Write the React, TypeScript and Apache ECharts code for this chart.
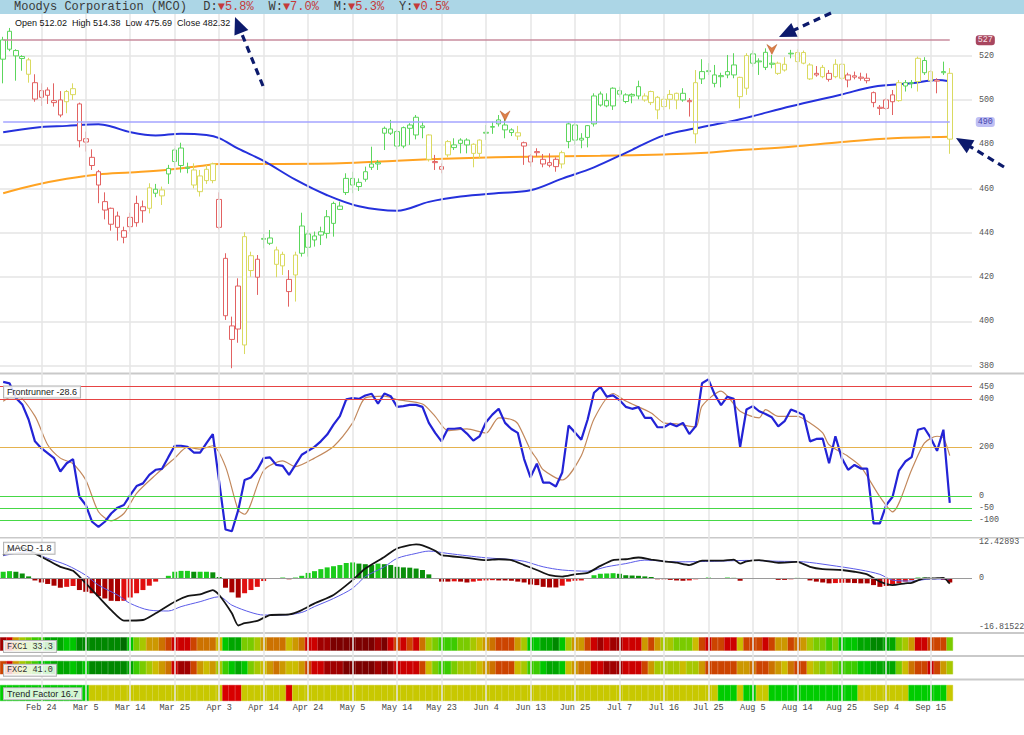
import React, { useEffect, useRef } from 'react';
import * as echarts from 'echarts';

// ---------- DATA ----------
const DATES = [
  'Feb 13','Feb 14','Feb 18','Feb 19','Feb 20','Feb 21','Feb 24','Feb 25','Feb 26','Feb 27','Feb 28',
  'Mar 3','Mar 4','Mar 5','Mar 6','Mar 7','Mar 10','Mar 11','Mar 12','Mar 13','Mar 14','Mar 17','Mar 18','Mar 19','Mar 20','Mar 21','Mar 24','Mar 25','Mar 26','Mar 27','Mar 28','Mar 31',
  'Apr 1','Apr 2','Apr 3','Apr 4','Apr 7','Apr 8','Apr 9','Apr 10','Apr 11','Apr 14','Apr 15','Apr 16','Apr 17','Apr 21','Apr 22','Apr 23','Apr 24','Apr 25','Apr 28','Apr 29','Apr 30',
  'May 1','May 2','May 5','May 6','May 7','May 8','May 9','May 12','May 13','May 14','May 15','May 16','May 19','May 20','May 21','May 22','May 23','May 27','May 28','May 29','May 30',
  'Jun 2','Jun 3','Jun 4','Jun 5','Jun 6','Jun 9','Jun 10','Jun 11','Jun 12','Jun 13','Jun 16','Jun 17','Jun 18','Jun 20','Jun 23','Jun 24','Jun 25','Jun 26','Jun 27','Jun 30',
  'Jul 1','Jul 2','Jul 3','Jul 7','Jul 8','Jul 9','Jul 10','Jul 11','Jul 14','Jul 15','Jul 16','Jul 17','Jul 18','Jul 21','Jul 22','Jul 23','Jul 24','Jul 25','Jul 28','Jul 29','Jul 30','Jul 31',
  'Aug 1','Aug 4','Aug 5','Aug 6','Aug 7','Aug 8','Aug 11','Aug 12','Aug 13','Aug 14','Aug 15','Aug 18','Aug 19','Aug 20','Aug 21','Aug 22','Aug 25','Aug 26','Aug 27','Aug 28','Aug 29',
  'Sep 2','Sep 3','Sep 4','Sep 5','Sep 8','Sep 9','Sep 10','Sep 11','Sep 12','Sep 15','Sep 16','Sep 17','Sep 18',
];
const FUTURE_SLOTS = ['', ' ', '  '];
const TICK_LABELS = ['Feb 24','Mar 5','Mar 14','Mar 25','Apr 3','Apr 14','Apr 24','May 5','May 14','May 23','Jun 4','Jun 13','Jun 25','Jul 7','Jul 16','Jul 25','Aug 5','Aug 14','Aug 25','Sep 4','Sep 15'];

const OPEN = [
  518.4,531.0,522.3,519.6,518.1,507.8,504.2,504.5,499.7,500.0,
  499.2,505.1,498.2,481.0,474.1,467.6,454.1,451.1,447.6,441.0,
  442.8,444.6,451.8,451.1,457.9,456.7,466.6,472.2,478.3,469.6,
  468.4,458.6,463.6,463.6,455.1,428.5,391.9,416.0,389.4,429.7,
  420.0,437.5,437.7,432.3,430.3,419.0,421.0,443.1,433.5,436.8,
  439.0,439.8,444.3,450.6,458.2,461.6,460.9,464.2,469.6,471.1,
  485.0,486.9,485.7,479.2,487.2,484.2,488.3,484.2,472.2,468.7,
  475.2,479.7,480.4,481.9,475.9,475.9,485.4,487.7,489.2,488.7,
  486.5,485.2,479.2,474.7,476.7,473.2,471.7,473.2,471.1,481.2,
  488.7,482.7,483.1,489.2,497.7,499.7,497.3,504.2,502.3,501.8,
  501.8,501.8,498.8,501.2,497.0,500.3,503.0,503.0,499.7,484.7,
  509.5,513.2,511.3,511.0,511.3,511.3,510.2,505.3,520.8,517.6,
  521.5,516.6,516.6,513.5,521.1,517.3,521.4,515.8,511.3,510.5,
  512.0,510.5,516.1,509.0,510.9,510.3,508.7,503.3,496.7,496.2,
  502.3,499.7,506.3,507.5,508.3,517.8,512.8,509.0,512.8,512.02,
];
const CLOSE = [
  527.1,522.9,519.9,518.7,511.6,500.4,501.2,502.1,498.8,493.2,
  503.8,502.4,481.6,482.5,470.4,461.6,450.3,443.9,442.5,438.0,
  447.0,453.3,450.0,460.3,459.7,459.4,469.1,477.4,470.4,469.1,
  461.6,465.7,468.7,471.1,442.5,402.6,398.0,396.6,438.3,423.0,
  428.1,437.1,435.3,425.8,425.1,413.5,430.0,430.8,439.5,438.6,
  440.5,447.3,453.3,452.1,464.6,464.6,462.8,467.6,471.1,471.7,
  487.2,485.0,479.2,487.5,488.7,492.2,487.5,473.2,471.7,469.9,
  481.2,478.5,481.9,479.7,480.0,481.9,485.0,488.0,491.0,486.5,
  485.3,483.7,480.7,472.0,476.2,471.1,470.5,469.9,476.2,489.2,
  481.9,481.9,488.4,501.8,502.7,497.3,505.3,502.6,499.3,502.5,
  506.0,500.0,503.8,495.5,500.3,502.5,500.0,500.0,499.2,507.8,
  512.8,512.8,507.5,510.5,512.8,515.8,501.5,520.0,516.6,517.2,
  514.7,516.1,512.0,516.1,520.8,521.4,516.6,509.5,512.0,514.7,
  509.3,516.1,509.8,511.3,510.3,509.8,509.8,498.8,496.2,500.0,
  499.2,507.8,507.8,507.9,518.8,512.3,508.7,508.5,512.3,482.32,
];
const LOW = [
  507.5,522.0,508.7,513.2,507.8,499.2,497.3,498.2,497.0,492.2,
  494.0,500.0,478.6,476.7,468.4,453.4,446.1,441.0,436.5,435.3,
  440.6,442.8,444.6,448.8,456.1,452.6,462.1,469.9,467.2,466.9,
  460.1,456.4,462.1,462.4,441.6,400.7,378.9,390.4,385.3,420.2,
  412.0,433.0,434.5,420.0,421.0,406.7,409.0,429.3,429.3,433.8,
  434.5,437.5,438.3,450.3,457.1,457.9,458.9,463.1,468.4,468.4,
  477.4,484.2,477.7,478.2,479.7,482.2,482.7,472.2,468.4,466.9,
  474.1,477.4,475.9,475.9,469.6,473.7,481.9,484.7,488.0,482.7,
  483.7,481.9,470.7,469.9,474.4,469.6,469.6,467.6,469.1,478.2,
  479.7,478.2,478.6,488.0,497.0,496.7,495.5,501.2,498.5,498.5,
  500.3,499.2,497.7,491.3,495.5,495.8,495.8,499.2,492.5,480.4,
  507.2,511.3,505.7,505.7,509.8,509.8,496.2,502.3,515.0,511.3,
  513.5,514.3,511.3,512.8,518.8,513.5,516.1,509.0,510.5,509.8,
  508.3,509.8,509.0,505.7,509.3,508.7,507.5,496.7,493.2,495.5,
  493.2,499.2,503.8,505.3,503.8,511.3,507.5,503.0,511.3,475.69,
];
const HIGH = [
  528.5,532.5,522.9,520.2,519.0,511.6,507.5,505.7,507.5,504.0,
  504.5,507.5,498.8,485.7,477.7,468.4,458.3,451.4,449.6,442.8,
  449.1,456.8,454.6,462.4,462.1,460.9,470.7,478.2,480.7,471.7,
  471.4,468.4,470.7,471.7,458.3,430.8,402.2,419.5,440.3,431.5,
  430.0,439.5,441.3,433.8,431.5,423.2,431.5,449.1,441.3,440.6,
  442.8,450.3,454.1,454.1,466.9,467.6,464.6,469.9,478.9,472.9,
  488.0,491.0,486.5,488.0,489.5,493.2,490.2,484.5,475.2,471.4,
  481.9,482.7,482.7,482.7,480.4,482.2,488.7,490.2,493.2,491.5,
  487.2,488.3,481.2,475.6,478.2,475.6,475.9,474.1,477.1,489.8,
  489.8,485.0,488.7,503.0,503.8,503.0,505.7,506.0,503.0,503.0,
  508.7,503.0,504.2,501.8,501.8,504.5,503.3,505.3,500.8,513.5,
  518.4,516.6,515.8,512.3,520.3,521.1,510.5,521.1,522.3,518.8,
  523.3,520.3,517.3,519.3,522.6,522.9,522.3,516.6,515.3,515.8,
  513.5,518.4,516.6,512.3,512.8,512.3,512.0,503.8,497.7,500.8,
  504.5,509.0,509.0,509.0,519.6,519.3,513.5,509.8,517.3,514.38,
];
// candle colour class per day: g = green, y = yellow, r = red
const CANDLE_CLASS =
  'ggggyrrrrr' + 'yyrrrrrrrr' + 'rrrygygggg' + 'yyyyrrrryy' + 'rggyyryggg' +
  'gggggggggg' + 'gggggggyrr' + 'ygggyygggg' + 'gyrrrrrryg' + 'gggggggggg' +
  'gyyyyyygry' + 'ggggggyygg' + 'ggyygyyyry' + 'ryyrrrrrrr' + 'ryggygyrgy';

const BLUE_MA = [[0,485.4],[5,487.5],[10,488.3],[15,489],[17,488],[20,485.5],[24,484],[28,484.8],[32,484.2],[34,482.8],[37,478],[41,472.5],[46,464],[51,457],[56,452],[62,450],[67,454],[72,456.4],[78,458],[83,459.2],[88,464.5],[93,469.6],[99,477.5],[104,484],[109,487.2],[116,491.3],[124,497.2],[132,502.5],[137,506],[143,507.5],[147,509],[149,508.4]];
const ORANGE_MA = [[0,457.9],[5,461.6],[10,464.4],[15,466.4],[20,467.3],[26,468.5],[31,470.2],[34,471.1],[42,471.1],[53,471.4],[62,472.6],[72,473.7],[83,474.4],[94,474.8],[104,475.4],[109,475.9],[116,477.4],[124,478.9],[132,481],[140,482.7],[149,483.4]];
const MARKERS = [[79, 492.8], [121, 522.8]];
const PRICE_TICKS = [380, 400, 420, 440, 460, 480, 500, 520];
const PRICE_LEVELS = [527, 490];

const FRONTRUNNER = [
  470,464,404,377,315,225,197,177,156,101,
  135,152,-3,-37,-106,-127,-106,-72,-48,-37,
  4,41,52,87,108,112,160,207,207,202,
  179,179,218,255,59,-138,-145,-58,66,76,
  108,156,159,128,124,87,128,170,186,202,
  225,253,294,329,398,403,400,414,421,380,
  422,411,367,370,375,375,367,301,260,225,
  277,277,280,257,228,246,304,335,359,301,
  276,260,152,77,133,55,55,39,97,290,
  262,232,315,425,449,409,414,395,367,359,
  366,322,322,283,283,298,287,301,255,287,
  464,480,418,374,409,400,202,356,370,349,
  338,324,287,308,356,346,333,225,235,236,
  135,246,156,108,128,113,113,-113,-113,-37,
  -3,105,142,160,273,280,239,186,273,-28.6,
];
const FR_SIGNAL = [[0,390],[2,418],[5,329],[7,211],[9,156],[11,133],[13,66],[15,-65],[17,-102],[19,-72],[21,11],[24,87],[27,156],[29,201],[31,193],[33,207],[35,121],[37,-58],[38,-75],[41,105],[44,145],[46,121],[49,156],[52,204],[55,301],[57,404],[60,411],[62,397],[66,379],[68,328],[70,269],[73,276],[76,259],[78,322],[80,315],[81,298],[83,190],[84,152],[85,108],[88,66],[91,166],[93,317],[96,422],[98,391],[102,342],[104,301],[106,297],[109,284],[110,370],[113,432],[116,349],[119,322],[120,356],[122,328],[125,328],[127,301],[129,260],[130,211],[133,163],[135,121],[138,-3],[140,-65],[143,108],[145,218],[147,246],[148,239],[149,166]];
const FR_LEVELS = [450, 400, 200, 0, -50, -100];

const MACD_MAX = 12.42893;
const MACD_MIN = -16.81522;
const MACD_LINE = [[0,8.0],[1,9.7],[3,10.5],[5,8.6],[7,6.3],[9,4.0],[11,2.6],[13,-1.7],[15,-6.3],[17,-10.9],[19,-14.5],[22,-14.3],[24,-12],[27,-8],[29,-6.1],[31,-5.5],[33,-4],[34,-5.7],[36,-12],[37,-16.2],[38,-15.4],[40,-14.6],[42,-12.6],[45,-12.4],[47,-10.9],[49,-8.6],[52,-5.7],[55,-0.6],[57,3.4],[60,7.4],[62,10.3],[65,11.7],[66,11.4],[68,9.5],[69,8],[73,7.1],[76,6.3],[78,6.6],[80,6.3],[82,4.6],[84,2.9],[86,1.1],[88,0.6],[90,1.4],[92,1.9],[94,4.3],[96,6.3],[98,6.6],[100,7.2],[102,6.5],[104,5.9],[106,5.4],[108,4.6],[110,6.1],[113,6.1],[115,6.5],[116,5.1],[117,5.9],[119,6.3],[122,5.4],[125,5.7],[127,4],[129,3.2],[132,2.9],[134,2.3],[136,1.4],[138,-1.1],[140,-2.3],[142,-1.7],[143,-1.5],[145,0],[146,0],[148,0.2],[149,-1.8]];
const MACD_SIGNAL = [[0,7.8],[4,9.2],[7,6.9],[10,4.6],[13,1.1],[15,-2.3],[18,-5.7],[20,-8.6],[23,-10.9],[26,-11.2],[28,-9.7],[31,-8],[34,-6.3],[36,-9.2],[39,-11.7],[41,-12.6],[44,-12.6],[47,-11.7],[49,-9.7],[52,-6.9],[55,-3.4],[57,0.6],[60,4],[62,6.9],[65,8.6],[67,9.4],[70,8.6],[73,7.8],[76,7.1],[80,6.5],[82,5.9],[85,4],[88,2.9],[92,2.5],[95,4],[98,5.1],[101,6.3],[106,5.7],[112,5.9],[117,6.2],[122,5.9],[126,5.7],[130,4.6],[135,2.9],[138,1.4],[140,-0.6],[143,-0.9],[146,-0.2],[149,-0.2]];
const MACD_HIST = [
  2.3,2.5,2.3,1.7,0.7,-0.7,-1.4,-1.9,-2.5,-3.2,
  -2.9,-2.6,-4.0,-4.6,-5.1,-6.1,-6.9,-7.7,-7.8,-7.7,
  -6.6,-5.1,-4.0,-2.5,-1.1,-0.2,0.9,2.3,2.6,2.6,
  2.3,2.3,2.3,2.1,0.5,-3.2,-4.8,-6.6,-5.1,-4.0,
  -2.9,-0.9,0,0,0.3,-0.3,0.3,0.9,1.9,2.5,
  3.2,3.8,4.2,4.6,5.3,5.5,5.1,4.9,4.6,5.1,
  4.9,4.6,4.0,3.8,3.7,3.4,2.9,1.4,0.1,-1.1,
  -1.1,-1.0,-1.1,-1.4,-1.1,-0.8,-0.7,-0.6,-0.7,-0.7,
  -0.8,-1.1,-1.4,-2.1,-2.3,-2.9,-3.1,-3.1,-2.5,-1.1,
  -0.8,-0.7,0,1.1,1.6,1.7,1.8,1.6,1.1,1.0,
  0.9,0.7,0.5,-0.3,-0.3,-0.5,-0.7,-0.8,-0.7,-0.3,
  0,0.3,0,0,0.3,0.2,-0.8,0,0,0.1,
  0.1,-0.2,-0.5,-0.5,-0.3,0.2,-0.2,-0.7,-1.1,-1.4,
  -1.7,-1.6,-1.5,-1.5,-1.6,-1.7,-1.7,-2.3,-2.9,-2.6,
  -2.1,-1.7,-1.1,-0.6,0.3,0.3,0.2,0,-0.5,-1.4,
];

// heat levels: 0 = darkest green ... 13 = darkest red
const FXC1 = [
  12,11,8,6,5,4,4,2,2,2, 3,3,1,1,1,1,1,1,1,0, 3,5,6,8,8,9,10,11,11,11,
  10,9,9,9,7,3,2,2,5,5, 6,8,9,9,9,7,8,9,11,11, 12,12,13,13,13,13,13,13,13,12,
  13,11,10,11,10,11,9,6,5,4, 4,4,5,5,6,7,8,9,10,10, 10,8,6,3,3,2,2,1,3,6,
  8,8,10,11,12,11,12,12,11,11, 11,8,10,8,6,6,5,5,5,7, 10,11,10,10,11,11,7,10,10,10,
  11,10,8,8,10,9,8,6,5,5, 4,5,3,3,3,2,2,1,1,2, 2,5,6,8,11,11,10,10,10,5,
];
const FXC2 = [
  10,11,8,6,5,4,3,3,2,2, 2,3,2,3,1,1,1,1,1,1, 2,4,5,6,7,8,9,11,12,12,
  10,8,7,8,6,4,3,2,3,5, 6,7,8,9,8,7,7,8,10,11, 11,12,12,12,13,13,13,13,13,12,
  13,12,11,11,11,11,10,7,5,4, 4,5,6,6,6,7,8,9,10,10, 10,7,6,4,4,3,2,2,3,7,
  8,9,9,11,11,12,12,12,11,11, 11,10,8,6,6,6,6,7,6,6, 8,10,10,10,10,10,8,8,9,10,
  10,9,8,7,9,10,10,7,6,5, 6,5,4,4,4,3,3,2,2,2, 2,5,7,9,10,10,11,10,8,6,
];
const FXC1_VALUE = 33.3;
const FXC2_VALUE = 41.0;
// trend factor runs: [state, days]; 2 = green, 1 = yellow, 0 = red
const TREND_RUNS = [[2,14],[1,21],[0,3],[1,7],[0,1],[1,67],[2,3],[1,1],[2,2],[1,2],[2,14],[1,8],[2,6],[1,1]];
const TREND_VALUE = 16.7;
const CHANGES = [['D', 5.8], ['W', 7.0], ['M', 5.3], ['Y', 0.5]];
const TITLE = 'Moodys Corporation (MCO)';

// ---------- STYLE ----------
const MONO = '"Liberation Mono", "DejaVu Sans Mono", monospace';
const SANS = '"Liberation Sans", Arial, sans-serif';
const HEAT = ['#006b00','#008800','#00a600','#00c600','#3ccb00','#7acb00','#a7c700','#cbbc00','#cc9800','#cc7200','#cc4400','#cc0000','#a00000','#7c0000'];
const TREND_COL = ['#d80000', '#c8c800', '#00cc00'];
const CANDLE_STYLE: Record<string, { up: string; down: string; wick: string }> = {
  g: { up: '#5cd65c', down: '#00b000', wick: '#10b810' },
  y: { up: '#dada60', down: '#c6be00', wick: '#c6be00' },
  r: { up: '#e26262', down: '#cc0000', wick: '#d01010' },
};
const LEVEL_STYLE = [
  { line: '#c98c9e', bg: '#a8465f', fg: '#f7e0e7' },
  { line: '#a4a4ff', bg: '#bfbff4', fg: '#4545ad' },
];
const NAVY = '#0c1a6c';

function App() {
  const ref = useRef<HTMLDivElement>(null);

  useEffect(() => {
    if (!ref.current) return;
    const chart = echarts.init(ref.current, null, { renderer: 'svg' });
    const cats = DATES.concat(FUTURE_SLOTS);
    const W = 972;
    const grids = [
      { left: 0, width: W, top: 14, height: 687 },
      { left: 0, width: W, top: 14, height: 358 },
      { left: 0, width: W, top: 375, height: 161 },
      { left: 0, width: W, top: 542.3, height: 85 },
      { left: 0, width: W, top: 637.3, height: 13.4 },
      { left: 0, width: W, top: 661, height: 13.3 },
      { left: 0, width: W, top: 685, height: 16 },
    ].map((g) => ({ ...g, outerBoundsMode: 'none', containLabel: false }));

    const xAxis = grids.map((_, i) => ({
      type: 'category',
      gridIndex: i,
      data: cats,
      boundaryGap: true,
      axisLine: { show: false },
      axisTick: { show: false },
      splitLine: { show: false },
      axisLabel: i === 6
        ? {
            show: true,
            interval: (_idx: number, val: string) => TICK_LABELS.indexOf(val) >= 0,
            margin: 2,
            fontSize: 8.5,
            fontFamily: MONO,
            color: '#444',
          }
        : { show: false },
    }));

    const hiddenY = (i: number) => ({ type: 'value', gridIndex: i, min: 0, max: 1, show: false });
    const rightLabel = { margin: 7, fontSize: 8.4, fontFamily: MONO, color: '#555' };

    const yAxis = [
      hiddenY(0),
      {
        type: 'value', gridIndex: 1, position: 'right', min: 377.2, max: 538.8,
        axisLine: { show: false },
        axisTick: { show: false, customValues: PRICE_TICKS },
        axisLabel: { ...rightLabel, customValues: PRICE_TICKS },
        splitLine: { show: true, lineStyle: { color: '#e5e5e5', width: 1.5 } },
      },
      {
        type: 'value', gridIndex: 2, position: 'right', min: -164.6, max: 498.2,
        axisLine: { show: false },
        axisTick: { show: false, customValues: FR_LEVELS },
        axisLabel: { ...rightLabel, customValues: FR_LEVELS },
        splitLine: { show: false },
      },
      {
        type: 'value', gridIndex: 3, position: 'right', min: MACD_MIN, max: MACD_MAX,
        axisLine: { show: false },
        axisTick: { show: false, customValues: [MACD_MIN, 0, MACD_MAX] },
        axisLabel: { ...rightLabel, customValues: [MACD_MIN, 0, MACD_MAX], formatter: (v: number) => String(v) },
        splitLine: { show: false },
      },
      hiddenY(4), hiddenY(5), hiddenY(6),
    ];

    const candleData = OPEN.map((o, i) => {
      const s = CANDLE_STYLE[CANDLE_CLASS[i]];
      return {
        value: [o, CLOSE[i], LOW[i], HIGH[i]],
        itemStyle: {
          color: '#ffffff', color0: s.down,
          borderColor: s.up, borderColor0: s.wick, borderColorDoji: s.wick,
          borderWidth: 1,
        },
      };
    });

    const histData = MACD_HIST.map((v, i) => {
      const prev = i > 0 ? MACD_HIST[i - 1] : v;
      let color;
      if (v >= 0) color = v >= prev ? '#1ccc1c' : '#0a8f0a';
      else color = v <= prev ? '#a80000' : '#e01010';
      return { value: v, itemStyle: { color } };
    });

    const heat = (arr: number[]) => arr.map((lv) => ({
      value: 1,
      itemStyle: { color: HEAT[lv], borderColor: HEAT[lv], borderWidth: 0.4 },
    }));
    const trend: number[] = [];
    TREND_RUNS.forEach(([s, n]) => { for (let k = 0; k < n; k++) trend.push(s); });
    const trendData = trend.map((s) => ({
      value: 1,
      itemStyle: { color: TREND_COL[s], borderColor: TREND_COL[s], borderWidth: 0.4 },
    }));

    const frLevelColor = (v: number) => (v >= 400 ? '#e64444' : v > 0 ? '#e5b24e' : '#46d846');

    const series: any[] = [
      {
        type: 'line', xAxisIndex: 0, yAxisIndex: 0, data: [], silent: true, z: 0,
        markLine: {
          silent: true, symbol: ['none', 'none'], label: { show: false }, animation: false,
          lineStyle: { color: '#e6e6e6', width: 1.5, type: 'solid' },
          data: TICK_LABELS.map((l) => ({ xAxis: l })),
        },
      },
      {
        type: 'line', xAxisIndex: 1, yAxisIndex: 1, data: ORANGE_MA, showSymbol: false, smooth: 0.35,
        lineStyle: { color: '#ffa322', width: 2 }, z: 2, silent: true,
      },
      {
        type: 'line', xAxisIndex: 1, yAxisIndex: 1, data: BLUE_MA, showSymbol: false, smooth: 0.35,
        lineStyle: { color: '#2531dc', width: 2 }, z: 2, silent: true,
      },
      {
        type: 'candlestick', xAxisIndex: 1, yAxisIndex: 1, barWidth: 5, data: candleData, z: 3,
        markLine: {
          silent: true, symbol: ['none', 'none'], animation: false,
          data: PRICE_LEVELS.map((v, k) => [
            {
              coord: [DATES[0], v],
              lineStyle: { color: LEVEL_STYLE[k].line, width: 1.5, type: 'solid' },
              label: {
                show: true, position: 'end', distance: 26, formatter: String(v),
                backgroundColor: LEVEL_STYLE[k].bg, color: LEVEL_STYLE[k].fg,
                padding: [1, 2, 1, 2], borderRadius: 3, fontSize: 8.4, fontFamily: MONO,
              },
            },
            { coord: [DATES[DATES.length - 1], v] },
          ]),
        },
      },
      {
        type: 'scatter', xAxisIndex: 1, yAxisIndex: 1, data: MARKERS, silent: true, z: 5,
        symbol: 'path://M0,0 L5,3.6 L10,0 L5,10 Z', symbolSize: [10, 10],
        itemStyle: { color: '#d4601c', borderColor: '#a84410', borderWidth: 0.5 },
      },
      {
        type: 'line', xAxisIndex: 2, yAxisIndex: 2, data: FR_SIGNAL, showSymbol: false, smooth: 0.25,
        lineStyle: { color: '#c2885c', width: 1.2 }, z: 3, silent: true,
        markLine: {
          silent: true, symbol: ['none', 'none'], label: { show: false }, animation: false,
          data: FR_LEVELS.map((v) => ({ yAxis: v, lineStyle: { color: frLevelColor(v), width: 1.2, type: 'solid' } })),
        },
      },
      {
        type: 'line', xAxisIndex: 2, yAxisIndex: 2, data: FRONTRUNNER, showSymbol: false,
        lineStyle: { color: '#2323d6', width: 2.2 }, z: 4, silent: true,
      },
      {
        type: 'bar', xAxisIndex: 3, yAxisIndex: 3, data: histData, barWidth: 5, z: 2, silent: true,
        markLine: {
          silent: true, symbol: ['none', 'none'], label: { show: false }, animation: false,
          data: [
            { yAxis: MACD_MAX, lineStyle: { color: '#5a5a5a', width: 1.5, type: 'solid' } },
            { yAxis: MACD_MIN, lineStyle: { color: '#5a5a5a', width: 1.5, type: 'solid' } },
            { yAxis: 0, lineStyle: { color: '#9a9a9a', width: 1, type: 'solid' } },
          ],
        },
      },
      {
        type: 'line', xAxisIndex: 3, yAxisIndex: 3, data: MACD_SIGNAL, showSymbol: false, smooth: 0.3,
        lineStyle: { color: '#5b5be8', width: 1 }, z: 3, silent: true,
      },
      {
        type: 'line', xAxisIndex: 3, yAxisIndex: 3, data: MACD_LINE, showSymbol: false, smooth: 0.2,
        lineStyle: { color: '#151515', width: 1.8 }, z: 4, silent: true,
      },
      { type: 'bar', xAxisIndex: 4, yAxisIndex: 4, data: heat(FXC1), barCategoryGap: '0%', silent: true },
      { type: 'bar', xAxisIndex: 5, yAxisIndex: 5, data: heat(FXC2), barCategoryGap: '0%', silent: true },
      { type: 'bar', xAxisIndex: 6, yAxisIndex: 6, data: trendData, barCategoryGap: '0%', silent: true },
    ];

    const box = {
      backgroundColor: 'rgba(255,255,255,0.82)', borderColor: '#b3b3b3', borderWidth: 1,
      padding: [1, 3, 1, 3], verticalAlign: 'middle', align: 'left',
    };
    const last = DATES.length - 1;
    const ohlcText = `Open ${OPEN[last].toFixed(2)}  High ${HIGH[last].toFixed(2)}  Low ${LOW[last].toFixed(2)}  Close ${CLOSE[last].toFixed(2)}`;

    const arrow = (tail: number[], tip: number[]) => {
      const dx = tip[0] - tail[0], dy = tip[1] - tail[1];
      const len = Math.sqrt(dx * dx + dy * dy);
      const ux = dx / len, uy = dy / len;
      const hl = 17, hw = 7.5;
      const bx = tip[0] - hl * ux, by = tip[1] - hl * uy;
      return [
        {
          type: 'line', z: 60, silent: true,
          shape: { x1: tail[0], y1: tail[1], x2: bx + 2 * ux, y2: by + 2 * uy },
          style: { stroke: NAVY, lineWidth: 3.2, lineDash: [7, 5] },
        },
        {
          type: 'polygon', z: 60, silent: true,
          shape: { points: [tip, [bx + hw * uy, by - hw * ux], [bx - hw * uy, by + hw * ux]] },
          style: { fill: NAVY },
        },
      ];
    };

    const graphic: any[] = [
      ...[[372.5, 2], [537.0, 1.6], [632, 2], [655, 2], [678.4, 2]].map(([y, h]) => ({
        type: 'rect', z: -1, silent: true, shape: { x: 0, y, width: 1024, height: h }, style: { fill: '#c9c9c9' },
      })),
      { type: 'rect', z: 50, silent: true, shape: { x: 0, y: 0, width: 1024, height: 14 }, style: { fill: '#acd6e6' } },
      { type: 'text', z: 51, silent: true, x: 14, y: 7, style: { text: TITLE, font: `12px ${MONO}`, fill: '#3a3a3a', verticalAlign: 'middle' } },
      ...CHANGES.flatMap(([k, v], i) => {
        const x = 203.3 + 65.2 * i;
        return [
          { type: 'text', z: 51, silent: true, x, y: 7, style: { text: `${k}:`, font: `12px ${MONO}`, fill: '#3a3a3a', verticalAlign: 'middle' } },
          { type: 'text', z: 51, silent: true, x: x + 14.4, y: 7, style: { text: `\u25BC${(v as number).toFixed(1)}%`, font: `12px ${MONO}`, fill: '#c43a3a', verticalAlign: 'middle' } },
        ];
      }),
      { type: 'text', z: 51, silent: true, x: 15, y: 23.3, style: { text: ohlcText, font: `9px ${SANS}`, fill: '#111', verticalAlign: 'middle' } },
      { type: 'text', z: 55, silent: true, x: 4, y: 392, style: { ...box, text: `Frontrunner ${FRONTRUNNER[last]}`, font: `9px ${SANS}`, fill: '#222' } },
      { type: 'text', z: 55, silent: true, x: 4, y: 548.3, style: { ...box, text: `MACD ${MACD_LINE[MACD_LINE.length - 1][1]}`, font: `9px ${SANS}`, fill: '#222' } },
      { type: 'text', z: 55, silent: true, x: 4, y: 646.5, style: { ...box, text: `FXC1 ${FXC1_VALUE.toFixed(1)}`, font: `8.5px ${MONO}`, fill: '#333' } },
      { type: 'text', z: 55, silent: true, x: 4, y: 670.2, style: { ...box, text: `FXC2 ${FXC2_VALUE.toFixed(1)}`, font: `8.5px ${MONO}`, fill: '#333' } },
      { type: 'text', z: 55, silent: true, x: 4, y: 693.8, style: { ...box, text: `Trend Factor ${TREND_VALUE.toFixed(1)}`, font: `9px ${SANS}`, fill: '#222' } },
      ...arrow([263, 86], [235, 17]),
      ...arrow([831, 13], [779, 37]),
      ...arrow([1004, 167], [956, 138]),
    ];

    chart.setOption({
      animation: false,
      backgroundColor: '#ffffff',
      grid: grids,
      xAxis,
      yAxis,
      series,
      graphic,
    });

    return () => chart.dispose();
  }, []);

  return (
    <div
      ref={ref}
      style={{ position: 'fixed', left: 0, top: 0, width: 1024, height: 735, background: '#fff' }}
    />
  );
}

export default App;
